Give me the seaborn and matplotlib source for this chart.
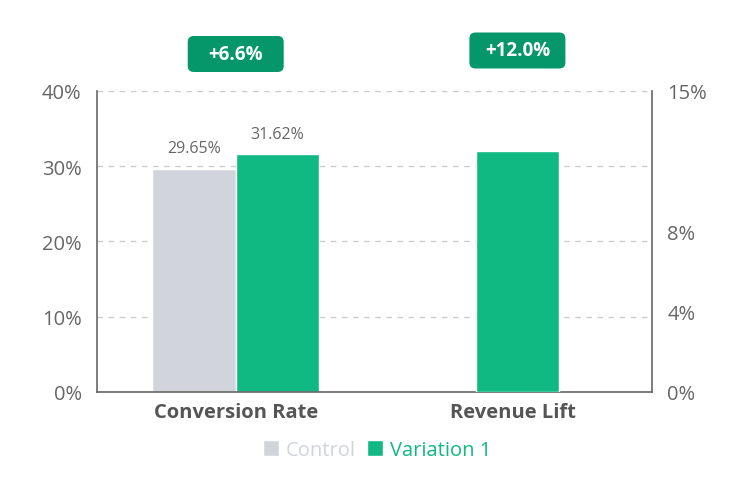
import pandas as pd
import matplotlib.pyplot as plt
from matplotlib.patches import FancyBboxPatch, Patch
import seaborn as sns

categories = ['Conversion Rate', 'Revenue Lift']
groups = ['Control', 'Variation 1']
conversion_rate = [29.65, 31.62]   # Control, Variation 1
revenue_lift = [12.0]              # Variation 1 only
lift_labels = ['+6.6%', '+12.0%']
left_ticks = [0, 10, 20, 30, 40]
right_ticks = [0, 4, 8, 15]

gray = '#d1d5db'
green = '#10b981'
dark_green = '#059669'
text_gray = '#666666'

sns.set_style('white')
plt.rcParams['font.family'] = ['Open Sans', 'DejaVu Sans']

conv_df = pd.DataFrame({'metric': categories[0], 'group': groups, 'value': conversion_rate})
rev_df = pd.DataFrame({'metric': categories[1], 'group': groups[1], 'value': revenue_lift})

fig = plt.figure(figsize=(7.54, 4.81), dpi=100)
ax = fig.add_axes([0.1286, 0.1830, 0.7361, 0.6258])
sns.barplot(data=conv_df, x='metric', y='value', hue='group', order=categories,
            hue_order=groups, palette=[gray, green], width=0.6, saturation=1,
            ax=ax, legend=False)
ax2 = ax.twinx()
sns.barplot(data=rev_df, x='metric', y='value', order=categories, color=green,
            width=0.3, saturation=1, ax=ax2)

# the revenue bar sits a touch right of its category centre in the original
rev_bar = ax2.patches[0]
rev_bar.set_x(rev_bar.get_x() + 0.015)

# value labels on the conversion bars
for cont in ax.containers:
    ax.bar_label(cont, fmt='%.2f%%', padding=9, fontsize=11.5, color=text_gray)

ax.set_ylim(0, 40)
ax2.set_ylim(0, 15)
ax.set_xlim(-0.5, 1.5)
ax.set_yticks(left_ticks)
ax.set_yticklabels([f'{t}%' for t in left_ticks])
ax2.set_yticks(right_ticks)
ax2.set_yticklabels([f'{t}%' for t in right_ticks])
ax.set_xlabel('')
ax.set_ylabel('')
ax2.set_xlabel('')
ax2.set_ylabel('')

ax.set_axisbelow(True)
ax.yaxis.grid(True, linestyle=(0, (4, 4)), color='#cccccc', linewidth=1)
ax.tick_params(axis='y', length=0, pad=11, labelsize=14.5, labelcolor=text_gray)
ax2.tick_params(axis='y', length=0, pad=11, labelsize=14.5, labelcolor=text_gray)
ax.tick_params(axis='x', length=0, pad=7)
for lab in ax.get_xticklabels():
    lab.set_fontsize(14.5)
    lab.set_fontweight('bold')
    lab.set_color('#555555')

for a in (ax, ax2):
    a.spines['top'].set_visible(False)
    for s in ('left', 'right', 'bottom'):
        a.spines[s].set_color('#666666')
        a.spines[s].set_linewidth(1.2)
ax.spines['right'].set_visible(False)
ax2.spines['left'].set_visible(False)
ax2.spines['bottom'].set_visible(False)

# lift badges above each category
fig.canvas.draw()
W, H = fig.get_size_inches() * fig.dpi
bw, bh = 96 / W, 36 / H
badge_y = [1 - 55 / H, 1 - 51.5 / H]
badge_x = [ax.transData.transform((0, 0))[0],
           ax2.transData.transform((rev_bar.get_x() + rev_bar.get_width() / 2, 0))[0]]
for i, txt in enumerate(lift_labels):
    cx = badge_x[i] / W
    box = FancyBboxPatch((cx - bw / 2, badge_y[i] - bh / 2), bw, bh,
                         boxstyle='round,pad=0,rounding_size=0.008',
                         mutation_aspect=W / H, transform=fig.transFigure,
                         facecolor=dark_green, edgecolor='none')
    fig.add_artist(box)
    fig.text(cx, badge_y[i], txt, ha='center', va='center', color='white',
             fontsize=13.5, fontweight='bold')

handles = [Patch(facecolor=gray), Patch(facecolor=green)]
leg = fig.legend(handles, groups, loc='center', bbox_to_anchor=(0.5, 1 - 451 / 481),
                 ncol=2, frameon=False, fontsize=14.5, handlelength=0.8,
                 handleheight=0.8, handletextpad=0.3, columnspacing=0.6)
for t, c in zip(leg.get_texts(), [gray, green]):
    t.set_color(c)

fig.savefig('out.png', dpi=100)
